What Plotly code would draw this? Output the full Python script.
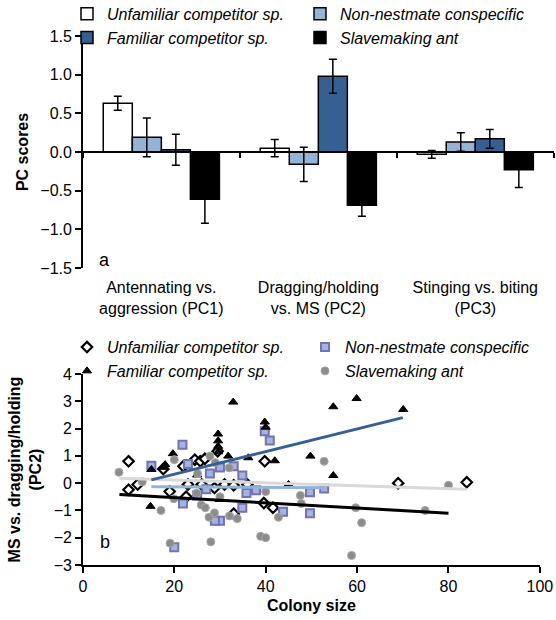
import plotly.graph_objects as go

# ---------------- Panel a: bar chart data ----------------
categories = ["Antennating vs.<br>aggression (PC1)",
              "Dragging/holding<br>vs. MS (PC2)",
              "Stinging vs. biting<br>(PC3)"]
series_names = ["Unfamiliar competitor sp.", "Non-nestmate conspecific",
                "Familiar competitor sp.", "Slavemaking ant"]
unfamiliar_pc = [0.63, 0.05, -0.03]
unfamiliar_err = [0.09, 0.11, 0.05]
nonnest_pc = [0.19, -0.16, 0.13]
nonnest_err = [0.25, 0.22, 0.12]
familiar_pc = [0.03, 0.98, 0.17]
familiar_err = [0.20, 0.22, 0.12]
slave_pc = [-0.61, -0.69, -0.23]
slave_err = [0.31, 0.14, 0.23]

# ---------------- Panel b: scatter data ----------------
unf_x = [10, 10, 12, 19, 22, 22.6, 24.5, 25.7, 26.7, 28.8, 29.5, 17.6, 39.6, 39.8,
         41.6, 33, 69, 84, 23, 26, 31, 33, 36]
unf_y = [0.8, -0.24, -0.05, -0.31, 0.62, -0.5, 0.86, 0.8, 0.89, -0.18, 1.17, 0.52,
         -0.73, 0.8, -0.9, -1.12, 0.0, 0.03, -0.05, -0.05, -0.05, -0.08, -0.05]
non_x = [21.8, 39.8, 40.9, 15, 23, 27.8, 30, 34.9, 35.8, 37.9, 34.9, 30, 28.9, 43.8,
         49.7, 49.7, 52.8, 21.9, 20, 27, 25, 33]
non_y = [1.41, 1.9, 1.56, 0.64, 0.7, 0.35, 0.57, 0.28, -0.36, -0.26, -0.9, -1.38,
         -1.38, -1.05, -1.1, -0.33, -0.2, -0.75, -2.35, -0.22, -0.45, 0.62]
fam_x = [32.9, 39.8, 40, 29.6, 29.6, 29.6, 29.6, 54.8, 59.9, 70.1, 42, 49.8, 36.2,
         31.8, 19.7, 18, 17.7, 54.8, 14.8, 30, 45, 15, 25]
fam_y = [2.97, 2.24, 2.05, 1.8, 1.55, 1.35, 1.15, 2.8, 3.1, 2.7, 0.82, 0.99, 0.93,
         0.99, 1.08, 0.68, 0.58, 0.28, -0.85, -0.6, -0.05, 0.5, 0.3]
sla_x = [7.9, 20, 27.8, 25.1, 32, 52.8, 17.1, 19.1, 19.9, 24.9, 25.9, 26.8, 27.6, 28,
         28.8, 30, 32.1, 33.8, 38.9, 40, 40, 42.8, 47.6, 47.8, 58.8, 59.7, 61, 74.9,
         80, 29, 13]
sla_y = [0.4, 0.86, 0.99, 0.35, 0.56, 0.8, -1.0, -2.2, -0.57, -0.37, -0.8, -0.9,
         -1.25, -2.15, -1.09, -0.5, -1.2, -1.3, -1.95, -2.0, -0.31, -1.25, -0.45,
         -0.75, -2.65, -0.9, -1.45, -1.0, -0.08, 0.75, 0.05]

# trend lines (end points)
unf_trend_x = [8, 84]
unf_trend_y = [0.18, -0.22]
non_trend_x = [15, 53]
non_trend_y = [-0.13, -0.17]
fam_trend_x = [15, 70]
fam_trend_y = [0.12, 2.4]
sla_trend_x = [8, 80]
sla_trend_y = [-0.42, -1.1]

FONT = "Liberation Sans, Arial, sans-serif"
C_UNF = "white"
C_NON = "#95B3D7"
C_FAM = "#376092"
C_SLA = "black"

fig = go.Figure()

bar_specs = [(unfamiliar_pc, unfamiliar_err, C_UNF),
             (nonnest_pc, nonnest_err, C_NON),
             (familiar_pc, familiar_err, C_FAM),
             (slave_pc, slave_err, C_SLA)]
for name, (vals, errs, col) in zip(series_names, bar_specs):
    fig.add_trace(go.Bar(
        x=categories, y=vals, name=name, xaxis="x", yaxis="y",
        marker=dict(color=col, line=dict(color="black", width=1.5)),
        error_y=dict(type="data", array=errs, color="black", thickness=1.5, width=4),
        legend="legend",
    ))

# helper trace for the zero-line axis
fig.add_trace(go.Scatter(x=categories, y=[None] * 3, xaxis="x3", yaxis="y",
                         showlegend=False, hoverinfo="skip", mode="markers"))

# scatter points
pts = [
    (unf_x, unf_y, dict(symbol="diamond", size=8, color="white",
                        line=dict(color="black", width=2.2))),
    (non_x, non_y, dict(symbol="square", size=8, color="#A3B4DE",
                        line=dict(color="#7272B4", width=2))),
    (fam_x, fam_y, dict(symbol="triangle-up", size=8, color="black",
                        line=dict(color="black", width=1))),
    (sla_x, sla_y, dict(symbol="circle", size=8, color="#8C8C8C",
                        line=dict(color="#A8A8A8", width=1))),
]
for name, (xs, ys, mk) in zip(series_names, pts):
    fig.add_trace(go.Scatter(x=xs, y=ys, mode="markers", name=name, marker=mk,
                             xaxis="x2", yaxis="y2", legend="legend2"))

trends = [(unf_trend_x, unf_trend_y, "#D9D9D9"),
          (non_trend_x, non_trend_y, C_NON),
          (fam_trend_x, fam_trend_y, C_FAM),
          (sla_trend_x, sla_trend_y, "black")]
for xs, ys, col in trends:
    fig.add_trace(go.Scatter(x=xs, y=ys, mode="lines", line=dict(color=col, width=3),
                             xaxis="x2", yaxis="y2", showlegend=False, hoverinfo="skip"))

ya_dom = [0.5677, 0.942]
zero_pos = ya_dom[0] + (ya_dom[1] - ya_dom[0]) * 0.5

axis_common = dict(showgrid=False, zeroline=False, linecolor="black", linewidth=1.5,
                   tickcolor="black", tickwidth=1.5,
                   tickfont=dict(family=FONT, size=16, color="black"))

fig.update_layout(
    width=556, height=620,
    margin=dict(l=0, r=0, t=0, b=0, autoexpand=False),
    paper_bgcolor="white", plot_bgcolor="white",
    font=dict(family=FONT, color="black"),
    barmode="group", bargap=0.26, bargroupgap=0,
    xaxis=dict(domain=[0.149, 0.996], anchor="y", type="category",
               showline=False, ticks="outside", ticklen=5, tickcolor="rgba(0,0,0,0)",
               showgrid=False, zeroline=False,
               tickfont=dict(family=FONT, size=16, color="black"), tickangle=0),
    xaxis3=dict(domain=[0.149, 0.996], overlaying="x", anchor="free", position=zero_pos,
                type="category", range=[-0.5, 2.5], showline=True, linecolor="black",
                linewidth=1.5, ticks="outside", tickson="boundaries", ticklen=5,
                tickcolor="black", tickwidth=1.5, showticklabels=False, showgrid=False,
                zeroline=False),
    yaxis=dict(domain=ya_dom, anchor="x", range=[-1.5, 1.5], dtick=0.5,
               tickformat=".1f", showline=True, ticks="outside", ticklen=6,
               title=dict(text="<b>PC scores</b>", font=dict(family=FONT, size=16),
                          standoff=8),
               **axis_common),
    xaxis2=dict(domain=[0.149, 0.971], anchor="y2", range=[0, 100], dtick=20,
                showline=True, ticks="outside", ticklen=6,
                title=dict(text="<b>Colony size</b>", font=dict(family=FONT, size=16),
                           standoff=6),
                **axis_common),
    yaxis2=dict(domain=[0.0887, 0.3968], anchor="x2", range=[-3, 4], dtick=1,
                showline=True, ticks="outside", ticklen=6,
                title=dict(text="<b>MS vs. dragging/holding<br>(PC2)</b>",
                           font=dict(family=FONT, size=16), standoff=8),
                **axis_common),
    legend=dict(orientation="h", x=0.1205, y=1.005, xanchor="left", yanchor="top",
                entrywidth=188, entrywidthmode="pixels", traceorder="normal",
                font=dict(family=FONT, size=16, style="italic", color="black"),
                bgcolor="rgba(0,0,0,0)", tracegroupgap=0, itemwidth=30),
    legend2=dict(orientation="h", x=0.1205, y=0.4675, xanchor="left", yanchor="top",
                 entrywidth=193, entrywidthmode="pixels", traceorder="normal",
                 font=dict(family=FONT, size=16, style="italic", color="black"),
                 bgcolor="rgba(0,0,0,0)", itemwidth=30),
    annotations=[
        dict(text="a", x=0.047, y=0.035, xref="x domain", yref="y domain",
             showarrow=False, font=dict(family=FONT, size=18, color="black"),
             xanchor="center", yanchor="middle"),
        dict(text="b", x=0.048, y=0.12, xref="x2 domain", yref="y2 domain",
             showarrow=False, font=dict(family=FONT, size=18, color="black"),
             xanchor="center", yanchor="middle"),
    ],
    showlegend=True,
)

fig.write_html("out.html")
